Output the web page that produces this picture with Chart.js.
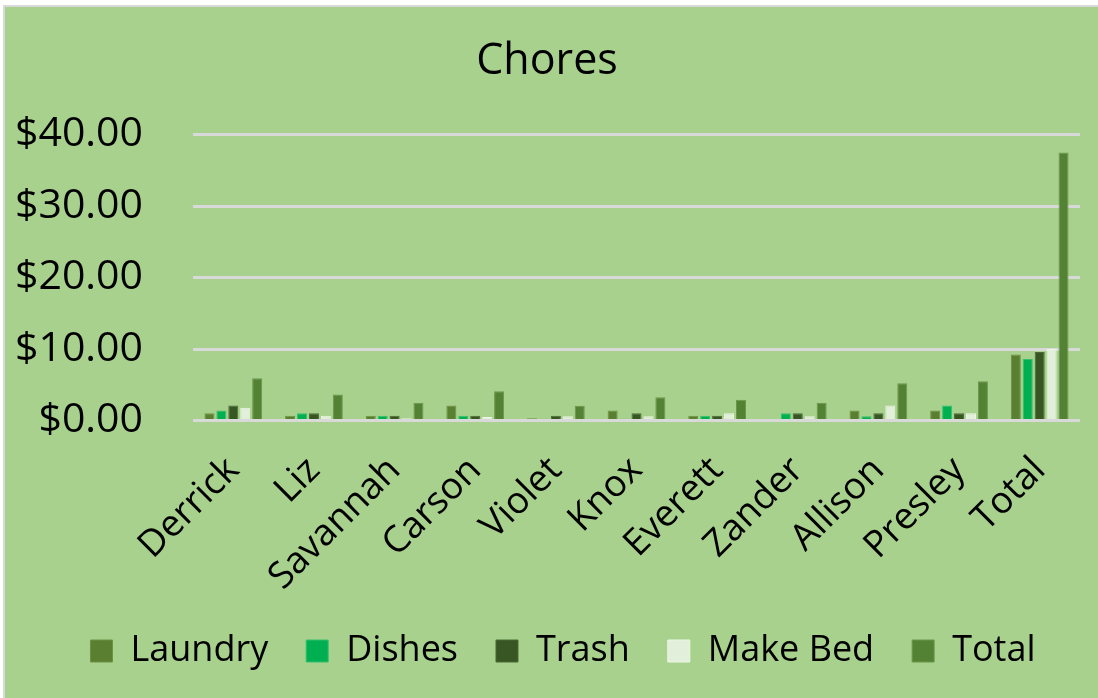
<!DOCTYPE html>
<html>
<head>
<meta charset="utf-8">
<title>Chores</title>
<script src="https://cdn.jsdelivr.net/npm/chart.js@4.4.0/dist/chart.umd.min.js"></script>
<style>
  html, body { margin: 0; padding: 0; background: #ffffff; }
  #frame {
    position: absolute; left: 3px; top: 5px; width: 1095px; height: 693px;
    background: #d9d9d9;
  }
  #wrap {
    position: absolute; left: 5px; top: 7px; width: 1093px; height: 691px;
    background: #a9d18e;
  }
</style>
</head>
<body>
<div id="frame"></div>
<div id="wrap"><canvas id="myChart"></canvas></div>
<script>
const names = ["Derrick", "Liz", "Savannah", "Carson", "Violet", "Knox", "Everett", "Zander", "Allison", "Presley", "Total"];
const laundry = [1.0, 0.65, 0.65, 2.1, 0.3, 1.4, 0.65, 0, 1.4, 1.4, 9.25];
const dishes = [1.4, 1.0, 0.65, 0.65, 0.25, 0.25, 0.65, 1.0, 0.6, 2.1, 8.6];
const trash = [2.1, 1.0, 0.65, 0.65, 0.65, 1.0, 0.65, 1.0, 1.0, 1.0, 9.6];
const makeBed = [1.8, 0.65, 0.3, 0.5, 0.6, 0.6, 1.0, 0.6, 2.1, 1.0, 10.0];
const total = [5.9, 3.65, 2.5, 4.1, 2.05, 3.25, 2.9, 2.5, 5.2, 5.5, 37.5];
const yTicks = [0, 10, 20, 30, 40];

const font = "'Open Sans', 'DejaVu Sans', sans-serif";

function bars(label, data, color, edge) {
  return {
    label: label,
    data: data,
    backgroundColor: color,
    borderColor: edge,
    borderWidth: 1,
    categoryPercentage: 0.74,
    barPercentage: 0.84,
  };
}

// legend in the original sits a bit right of centre
const shiftLegend = {
  id: "shiftLegend",
  afterLayout(chart) {
    chart.legend.left += 16;
    chart.legend.right += 16;
  },
};

new Chart("myChart", {
  type: "bar",
  data: {
    labels: names,
    datasets: [
      bars("Laundry", laundry, "#5b7f30", "#6f9142"),
      bars("Dishes", dishes, "#00b050", "#33c070"),
      bars("Trash", trash, "#375623", "#4a6a35"),
      bars("Make Bed", makeBed, "#e2efda", "#eef6e8"),
      bars("Total", total, "#548235", "#6a9648"),
    ],
  },
  plugins: [shiftLegend],
  options: {
    responsive: true,
    maintainAspectRatio: false,
    animation: false,
    layout: { padding: { left: 9, right: 18, top: 0, bottom: 19 } },
    plugins: {
      title: {
        display: true,
        text: "Chores",
        color: "#000000",
        font: { family: font, size: 43, weight: "normal" },
        padding: { top: 29, bottom: 47 },
      },
      legend: {
        position: "bottom",
        labels: {
          color: "#000000",
          font: { family: font, size: 36 },
          boxWidth: 22,
          boxHeight: 22,
          padding: 38,
        },
      },
      tooltip: { enabled: false },
    },
    scales: {
      x: {
        grid: { display: false },
        border: { display: false },
        ticks: {
          color: "#000000",
          font: { family: font, size: 37 },
          minRotation: 45,
          maxRotation: 45,
          autoSkip: false,
          padding: 20,
        },
        afterFit: (scale) => { scale.height = 174.5; },
      },
      y: {
        min: 0,
        max: 40,
        afterBuildTicks: (scale) => { scale.ticks = yTicks.map((v) => ({ value: v })); },
        grid: { color: "#d9d9d9", lineWidth: 3, drawTicks: false },
        border: { display: false },
        ticks: {
          color: "#000000",
          font: { family: font, size: 41 },
          padding: 50,
          callback: (v) => "$" + Number(v).toFixed(2),
        },
        afterFit: (scale) => { scale.width = 179; },
      },
    },
  },
});
</script>
</body>
</html>
